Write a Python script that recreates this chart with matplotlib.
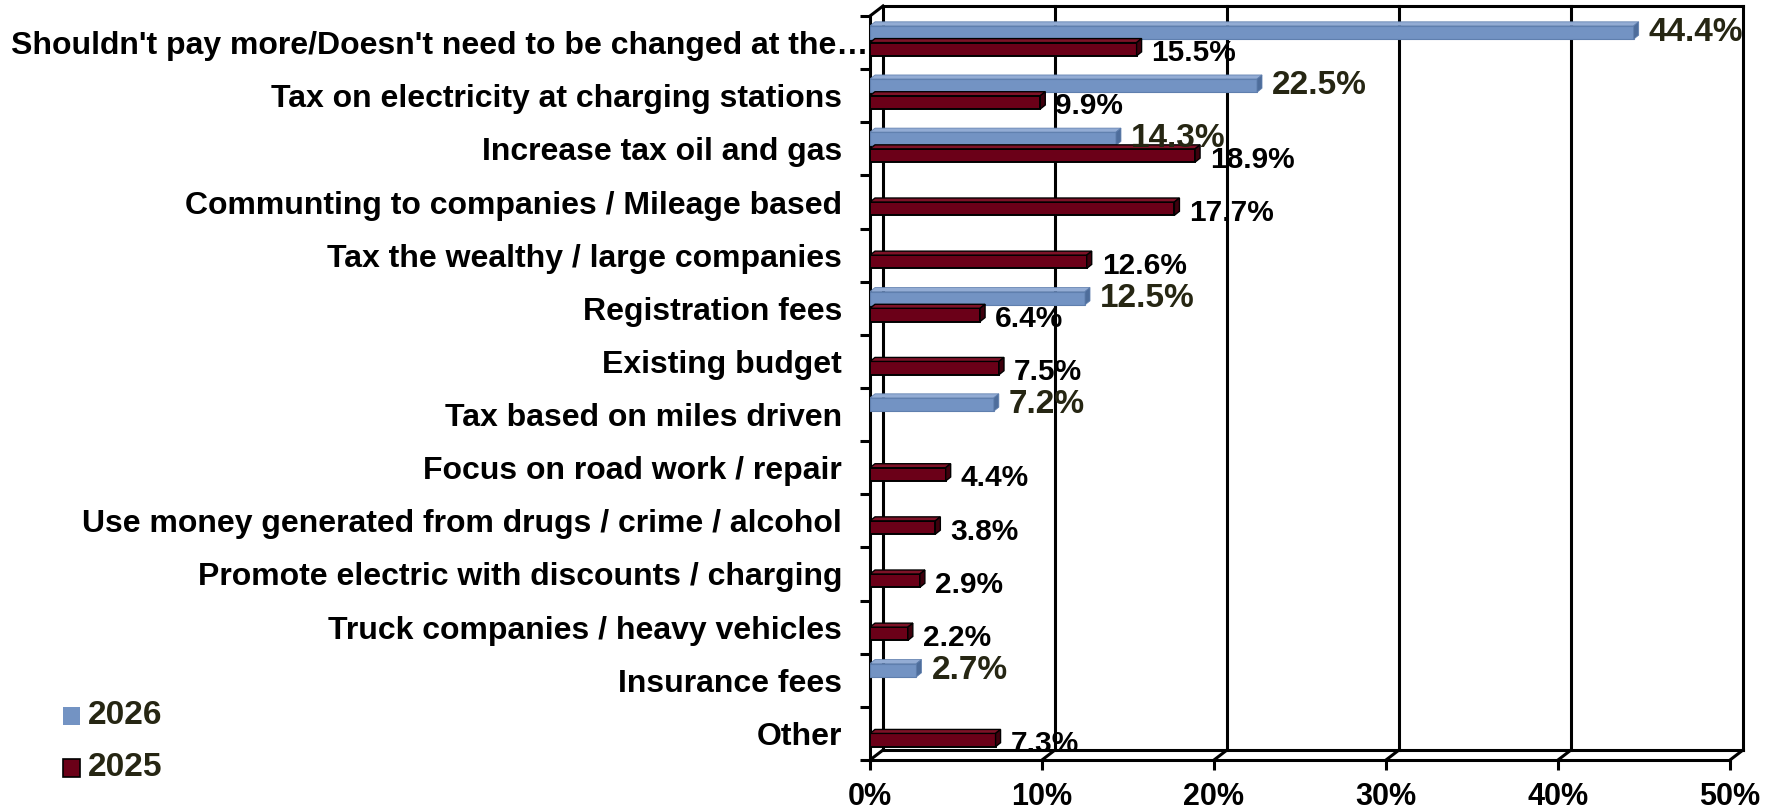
import matplotlib
matplotlib.use("Agg")
import matplotlib.pyplot as plt
from matplotlib.patches import Polygon, Rectangle
import numpy as np

categories = [
    "Shouldn't pay more/Doesn't need to be changed at the\u2026",
    "Tax on electricity at charging stations",
    "Increase tax oil and gas",
    "Communting to companies / Mileage based",
    "Tax the wealthy / large companies",
    "Registration fees",
    "Existing budget",
    "Tax based on miles driven",
    "Focus on road work / repair",
    "Use money generated from drugs / crime / alcohol",
    "Promote electric with discounts / charging",
    "Truck companies / heavy vehicles",
    "Insurance fees",
    "Other",
]
series_names = ["2026", "2025"]
vals_2026 = [44.4, 22.5, 14.3, np.nan, np.nan, 12.5, np.nan, 7.2, np.nan, np.nan, np.nan, np.nan, 2.7, np.nan]
vals_2025 = [15.5, 9.9, 18.9, 17.7, 12.6, 6.4, 7.5, np.nan, 4.4, 3.8, 2.9, 2.2, np.nan, 7.3]
x_ticks = [0, 10, 20, 30, 40, 50]
x_labels = ["0%", "10%", "20%", "30%", "40%", "50%"]

plt.rcParams["font.family"] = ["Liberation Sans", "DejaVu Sans"]
plt.rcParams["font.weight"] = "bold"

W, H = 1777, 811
fig = plt.figure(figsize=(W / 100, H / 100), dpi=100)
ax = fig.add_axes([870 / W, 51 / H, 860 / W, 744 / H])
ax.set_xlim(0, 50)
ax.set_ylim(13.5, -0.5)
for s in ax.spines.values():
    s.set_visible(False)

# pixel -> data units
px_x = 50 / 860
px_y = 14 / 744
lw = 2.2

# back wall / floor (3d look)
bdx, bdy = 13 * px_x, -10 * px_y
y_bot, y_top = 13.5, -0.5
for x in x_ticks:
    ax.plot([x + bdx, x + bdx], [y_bot + bdy, y_top + bdy], color="black", lw=lw, zorder=1, clip_on=False)
    ax.plot([x, x + bdx], [y_bot, y_bot + bdy], color="black", lw=lw, zorder=1, clip_on=False)
ax.plot([bdx, 50 + bdx], [y_top + bdy, y_top + bdy], color="black", lw=lw, zorder=1, clip_on=False)
ax.plot([bdx, 50 + bdx], [y_bot + bdy, y_bot + bdy], color="black", lw=lw, zorder=1, clip_on=False)
ax.plot([0, 50], [y_bot, y_bot], color="black", lw=lw, zorder=2, clip_on=False)
ax.plot([0, 0], [y_bot, y_top], color="black", lw=lw, zorder=2, clip_on=False)
ax.plot([0, bdx], [y_top, y_top + bdy], color="black", lw=lw, zorder=2, clip_on=False)

rows = np.arange(len(categories))
bar_h = 0.25
ddx, ddy = 5 * px_x, -4 * px_y

series = [
    (np.array(vals_2026), rows - 0.19, "#7393C3", "#93ACD4", "#4E6D9B", "#5F7FAE", 0.8, "#262613", 24, 0),
    (np.array(vals_2025), rows + 0.125, "#6B0018", "#7E1227", "#3E000D", "black", 1.4, "black", 21.5, -4),
]
for vals, ypos, face, top, side, edge, elw, tcol, tsize, toff in series:
    ok = ~np.isnan(vals)
    ax.barh(ypos[ok], vals[ok], height=bar_h, color=face, edgecolor=edge, linewidth=elw, zorder=4)
    for v, y in zip(vals[ok], ypos[ok]):
        yt = y - bar_h / 2
        ax.add_patch(Polygon([(0, yt), (v, yt), (v + ddx, yt + ddy), (ddx, yt + ddy)],
                             closed=True, fc=top, ec=edge, lw=elw * 0.7, zorder=4))
        ax.add_patch(Polygon([(v, yt), (v + ddx, yt + ddy), (v + ddx, yt + bar_h + ddy), (v, yt + bar_h)],
                             closed=True, fc=side, ec=edge, lw=elw * 0.7, zorder=4))
        ax.annotate(f"{v:.1f}%", xy=(v, y), xytext=(15, toff), textcoords="offset pixels",
                    ha="left", va="center", fontsize=tsize, fontweight="bold", color=tcol,
                    zorder=6, annotation_clip=False)

# axes ticks and labels
ax.set_yticks(rows)
ax.set_yticklabels(categories, fontsize=23, fontweight="bold")
ax.set_yticks(np.arange(-0.5, 14, 1), minor=True)
ax.tick_params(axis="y", which="major", length=0, pad=20)
ax.tick_params(axis="y", which="minor", length=7, width=lw, direction="out", color="black")
ax.yaxis.get_major_ticks()[0].set_pad(1)
ax.set_xticks(x_ticks)
ax.set_xticklabels(x_labels, fontsize=22, fontweight="bold")
ax.tick_params(axis="x", length=7, width=lw, pad=9, color="black")

# legend
leg_colors = [("#7393C3", "none"), ("#6B0018", "black")]
leg_y = [716, 768]
for name, (fc, ec), yc in zip(series_names, leg_colors, leg_y):
    fig.add_artist(Rectangle((63 / W, (H - yc - 9) / H), 17 / W, 18 / H,
                             transform=fig.transFigure, fc=fc, ec=ec, lw=1.2))
    fig.text(88 / W, (H - yc) / H, name, ha="left", va="center", fontsize=24,
             fontweight="bold", color="#262613")

fig.savefig("out.png", dpi=100)
